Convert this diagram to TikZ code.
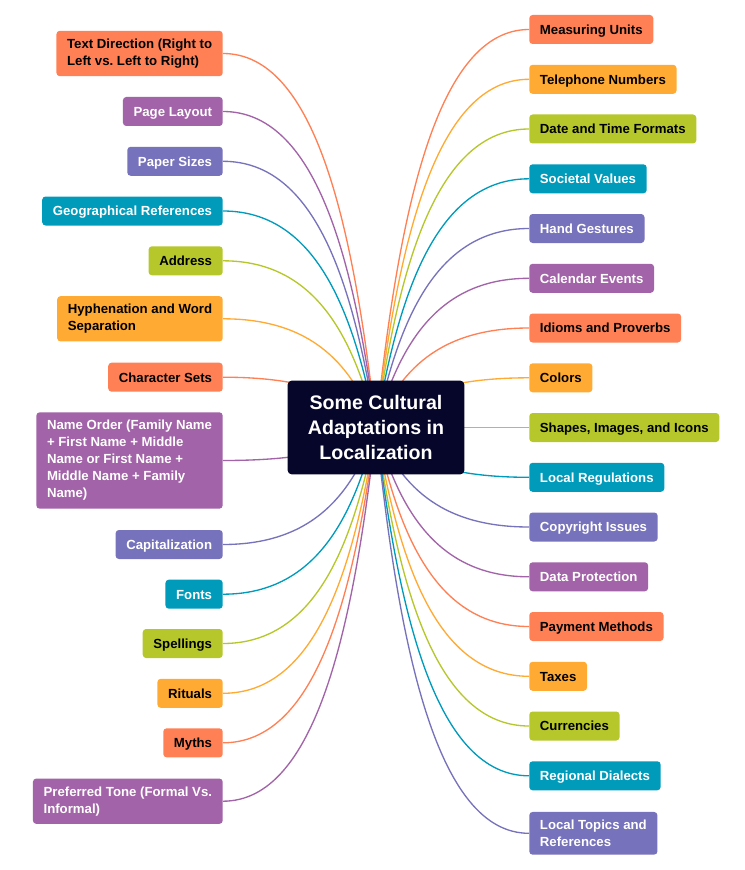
\documentclass[tikz,border=0pt]{standalone}
\usepackage{fontspec}
\setmainfont{Liberation Sans}
\frenchspacing
\usetikzlibrary{calc, backgrounds}

\definecolor{cOrange}{HTML}{FF8055}
\definecolor{cYellow}{HTML}{FFAA33}
\definecolor{cLime}{HTML}{B5C72A}
\definecolor{cTeal}{HTML}{009BBB}
\definecolor{cViolet}{HTML}{7672BB}
\definecolor{cPurple}{HTML}{A263A8}
\definecolor{cNavy}{HTML}{06062B}

\tikzset{
  leaf/.style={rounded corners=2.5pt, inner xsep=8pt, inner ysep=6pt, minimum height=21.75pt,
    align=left, font=\fontsize{9.9}{12.75}\selectfont\bfseries},
  lbox/.style={leaf, anchor=east},
  rbox/.style={leaf, anchor=west},
  oneline/.style={text height=8.4pt, text depth=1.2pt},
  orangebox/.style={fill=cOrange, text=black},
  yellowbox/.style={fill=cYellow, text=black},
  limebox/.style={fill=cLime, text=black},
  tealbox/.style={fill=cTeal, text=white},
  violetbox/.style={fill=cViolet, text=white},
  purplebox/.style={fill=cPurple, text=white},
  root/.style={fill=cNavy, text=white, rounded corners=3pt, minimum width=132.5pt,
    minimum height=70.3pt, align=center, font=\fontsize{14.7}{19}\selectfont\bfseries},
  branch/.style={line width=1pt, to path={let \p1=(\tikztostart), \p2=(\tikztotarget) in
    .. controls ({\x1+0.6*(\x2-\x1)},\y1) and ({\x1+0.85*(\x2-\x1)},{\y1+0.45*(\y2-\y1)}) .. (\tikztotarget)}},
}

\begin{document}
\begin{tikzpicture}[x=0.75pt, y=-0.75pt]
\useasboundingbox (0,0) rectangle (745,870);

\node[root] (root) at (376,427.5) {Some Cultural\\Adaptations in\\Localization};

%left side
\node[lbox, orangebox] (tdir) at (223,53.5) {Text Direction (Right to\\Left vs. Left to Right)};
\node[lbox, oneline, purplebox] (layout) at (223,111.5) {Page Layout};
\node[lbox, oneline, violetbox] (paper) at (223,161.3) {Paper Sizes};
\node[lbox, oneline, tealbox] (geo) at (223,211) {Geographical References};
\node[lbox, oneline, limebox] (address) at (223,260.8) {Address};
\node[lbox, yellowbox] (hyphen) at (223,318.8) {Hyphenation and Word\\Separation};
\node[lbox, oneline, orangebox] (charset) at (223,377.2) {Character Sets};
\node[lbox, purplebox] (nameorder) at (223,460.5) {Name Order (Family Name\\+ First Name + Middle\\Name or First Name +\\Middle Name + Family\\Name)};
\node[lbox, oneline, violetbox] (capital) at (223,544.5) {Capitalization};
\node[lbox, oneline, tealbox] (fonts) at (223,594.2) {Fonts};
\node[lbox, oneline, limebox] (spell) at (223,643.5) {Spellings};
\node[lbox, oneline, yellowbox] (rituals) at (223,693.3) {Rituals};
\node[lbox, oneline, orangebox] (myths) at (223,742.8) {Myths};
\node[lbox, purplebox] (tone) at (223,801.2) {Preferred Tone (Formal Vs.\\Informal)};

%right side
\node[rbox, oneline, orangebox] (units) at (529,29.5) {Measuring Units};
\node[rbox, oneline, yellowbox] (phone) at (529,79.3) {Telephone Numbers};
\node[rbox, oneline, limebox] (date) at (529,129) {Date and Time Formats};
\node[rbox, oneline, tealbox] (values) at (529,178.8) {Societal Values};
\node[rbox, oneline, violetbox] (gestures) at (529,228.5) {Hand Gestures};
\node[rbox, oneline, purplebox] (calendar) at (529,278.3) {Calendar Events};
\node[rbox, oneline, orangebox] (idioms) at (529,328) {Idioms and Proverbs};
\node[rbox, oneline, yellowbox] (colors) at (529,377.8) {Colors};
\node[rbox, oneline, limebox] (shapes) at (529,427.5) {Shapes, Images, and Icons};
\node[rbox, oneline, tealbox] (regul) at (529,477.3) {Local Regulations};
\node[rbox, oneline, violetbox] (copyright) at (529,527) {Copyright Issues};
\node[rbox, oneline, purplebox] (dataprot) at (529,576.8) {Data Protection};
\node[rbox, oneline, orangebox] (payment) at (529,626.5) {Payment Methods};
\node[rbox, oneline, yellowbox] (taxes) at (529,676.3) {Taxes};
\node[rbox, oneline, limebox] (currency) at (529,726) {Currencies};
\node[rbox, oneline, tealbox] (dialects) at (529,775.8) {Regional Dialects};
\node[rbox, violetbox] (topics) at (529,833.3) {Local Topics and\\References};

%branches
\begin{scope}[on background layer]
\draw[branch, cOrange] (tdir.east) to (root.center);
\draw[branch, cPurple] (layout.east) to (root.center);
\draw[branch, cViolet] (paper.east) to (root.center);
\draw[branch, cTeal] (geo.east) to (root.center);
\draw[branch, cLime] (address.east) to (root.center);
\draw[branch, cYellow] (hyphen.east) to (root.center);
\draw[branch, cOrange] (charset.east) to (root.center);
\draw[branch, cPurple] (nameorder.east) to (root.center);
\draw[branch, cViolet] (capital.east) to (root.center);
\draw[branch, cTeal] (fonts.east) to (root.center);
\draw[branch, cLime] (spell.east) to (root.center);
\draw[branch, cYellow] (rituals.east) to (root.center);
\draw[branch, cOrange] (myths.east) to (root.center);
\draw[branch, cPurple] (tone.east) to (root.center);
\draw[branch, cOrange] (units.west) to (root.center);
\draw[branch, cYellow] (phone.west) to (root.center);
\draw[branch, cLime] (date.west) to (root.center);
\draw[branch, cTeal] (values.west) to (root.center);
\draw[branch, cViolet] (gestures.west) to (root.center);
\draw[branch, cPurple] (calendar.west) to (root.center);
\draw[branch, cOrange] (idioms.west) to (root.center);
\draw[branch, cYellow] (colors.west) to (root.center);
\draw[branch, cLime] (shapes.west) to (root.center);
\draw[branch, cTeal] (regul.west) to (root.center);
\draw[branch, cViolet] (copyright.west) to (root.center);
\draw[branch, cPurple] (dataprot.west) to (root.center);
\draw[branch, cOrange] (payment.west) to (root.center);
\draw[branch, cYellow] (taxes.west) to (root.center);
\draw[branch, cLime] (currency.west) to (root.center);
\draw[branch, cTeal] (dialects.west) to (root.center);
\draw[branch, cViolet] (topics.west) to (root.center);
\end{scope}
\end{tikzpicture}
\end{document}
